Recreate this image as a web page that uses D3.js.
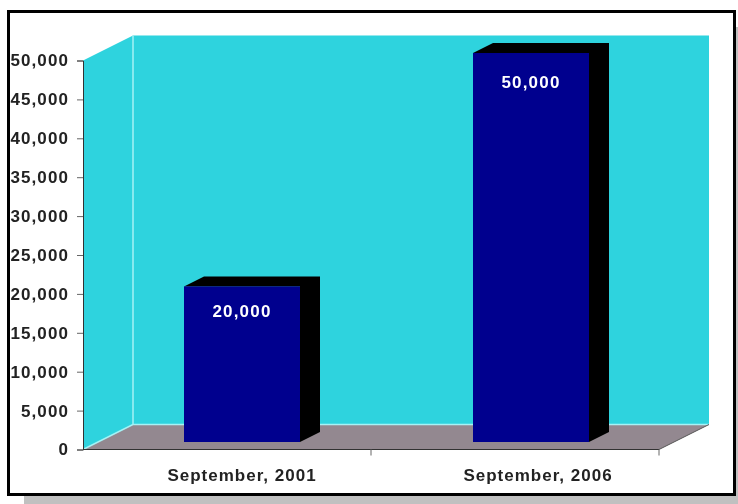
<!DOCTYPE html>
<html lang="en">
<head>
<meta charset="utf-8">
<style>
  html, body { margin: 0; padding: 0; background: #fff; }
  svg { display: block; }
  text { font-family: "Liberation Sans", Arial, sans-serif; font-weight: bold; }
</style>
<script src="https://d3js.org/d3.v7.min.js"></script>
</head>
<body>
<svg width="738" height="504"></svg>
<script>
// data
var categories = ["September, 2001", "September, 2006"];
var values = [20000, 50000];
var yTicks = [0, 5000, 10000, 15000, 20000, 25000, 30000, 35000, 40000, 45000, 50000];

var svg = d3.select("svg");

var wallColor = "#2fd3de";
var floorColor = "#938890";
var edgeColor = "#a5f2f5";
var barColor = "#00008e";
var fmt = d3.format(",");

// soft filter, the original is a blurry jpeg
var defs = svg.append("defs");
defs.append("filter").attr("id", "soft")
    .append("feGaussianBlur").attr("stdDeviation", 0.5);

// drop shadow and frame
svg.append("rect").attr("x", 24).attr("y", 27).attr("width", 714).attr("height", 477).attr("fill", "#c0c0c0");
svg.append("rect").attr("x", 8.5).attr("y", 11.5).attr("width", 726).attr("height", 483)
    .attr("fill", "#fff").attr("stroke", "#000").attr("stroke-width", 3);

var x = d3.scaleBand().domain(categories).range([83, 659]);
var y = d3.scaleLinear().domain([0, 50000]).range([449.5, 60.5]);

var depthX = 50, depthY = -25;
var x0 = x.range()[0], x1 = x.range()[1];
var yB = y(0), yT = y(50000);

function poly(pts) {
  return "M" + pts.map(function(p) { return p.join(","); }).join("L") + "Z";
}

var chart = svg.append("g").attr("filter", "url(#soft)");

// back wall, left wall, floor
chart.append("path")
    .attr("d", poly([[x0 + depthX, yT + depthY], [x1 + depthX, yT + depthY], [x1 + depthX, yB + depthY], [x0 + depthX, yB + depthY]]))
    .attr("fill", wallColor);
chart.append("path")
    .attr("d", poly([[x0, yT], [x0 + depthX, yT + depthY], [x0 + depthX, yB + depthY], [x0, yB]]))
    .attr("fill", wallColor);
chart.append("path")
    .attr("d", poly([[x0, yB], [x0 + depthX, yB + depthY], [x1 + depthX, yB + depthY], [x1, yB]]))
    .attr("fill", floorColor);

// light edges where the walls meet
chart.append("path")
    .attr("d", "M" + (x0 + depthX) + "," + (yT + depthY) + "V" + (yB + depthY) + "L" + x0 + "," + yB + "M" + (x0 + depthX) + "," + (yB + depthY) + "H" + (x1 + depthX))
    .attr("fill", "none").attr("stroke", edgeColor).attr("stroke-width", 1.5);
chart.append("path")
    .attr("d", "M" + x1 + "," + yB + "L" + (x1 + depthX) + "," + (yB + depthY))
    .attr("fill", "none").attr("stroke", "#555").attr("stroke-width", 1);

// bars
var barW = 116, barDX = 20, barDY = -10, shiftY = -7.5;
var barShift = [15, 16];
var labelDrop = [30.5, 35];
var bars = chart.selectAll(".bar").data(categories).enter().append("g").attr("class", "bar");

bars.append("path")
    .attr("fill", "#000")
    .attr("d", function(d, i) {
      var l = x(d) + x.step() / 2 - barW / 2 + barShift[i], r = l + barW;
      var t = y(values[i]) + shiftY, b = y(0) + shiftY;
      return poly([[l, t], [l + barDX, t + barDY], [r + barDX, t + barDY], [r + barDX, b + barDY], [r, b], [r, t]]);
    });
bars.append("rect")
    .attr("fill", barColor)
    .attr("x", function(d, i) { return x(d) + x.step() / 2 - barW / 2 + barShift[i]; })
    .attr("y", function(d, i) { return y(values[i]) + shiftY; })
    .attr("width", barW)
    .attr("height", function(d, i) { return y(0) - y(values[i]); });
bars.append("text")
    .attr("x", function(d, i) { return x(d) + x.step() / 2 + barShift[i]; })
    .attr("y", function(d, i) { return y(values[i]) + shiftY + labelDrop[i]; })
    .attr("text-anchor", "middle")
    .attr("fill", "#fff")
    .style("font-size", "17px")
    .style("letter-spacing", "1.2px")
    .text(function(d, i) { return fmt(values[i]); });

// y axis
var yAxis = chart.append("g")
    .attr("transform", "translate(" + x0 + ",0)")
    .call(d3.axisLeft(y).tickValues(yTicks).tickSize(6).tickPadding(8).tickFormat(fmt));
yAxis.select(".domain").attr("stroke", "#333");
yAxis.selectAll(".tick line").attr("stroke", "#666");
yAxis.selectAll("text")
    .attr("fill", "#222")
    .style("font-family", '"Liberation Sans", Arial, sans-serif')
    .style("font-size", "17px")
    .style("letter-spacing", "1.1px");

// x axis, ticks sit on the band edges
var xAxis = chart.append("g")
    .attr("transform", "translate(0," + yB + ")");
xAxis.append("path").attr("d", "M" + x0 + ",0H" + x1).attr("stroke", "#333").attr("stroke-width", 1.2);
xAxis.selectAll(".edge").data(categories).enter().append("line")
    .attr("class", "edge")
    .attr("x1", function(d) { return x(d) + x.step(); })
    .attr("x2", function(d) { return x(d) + x.step(); })
    .attr("y1", 0).attr("y2", 6)
    .attr("stroke", "#666");
var labelShift = [15, 23];
xAxis.selectAll(".cat").data(categories).enter().append("text")
    .attr("class", "cat")
    .attr("x", function(d, i) { return x(d) + x.step() / 2 + labelShift[i]; })
    .attr("y", 31)
    .attr("text-anchor", "middle")
    .attr("fill", "#222")
    .style("font-size", "17px")
    .style("letter-spacing", "1px")
    .text(function(d) { return d; });
</script>
</body>
</html>
